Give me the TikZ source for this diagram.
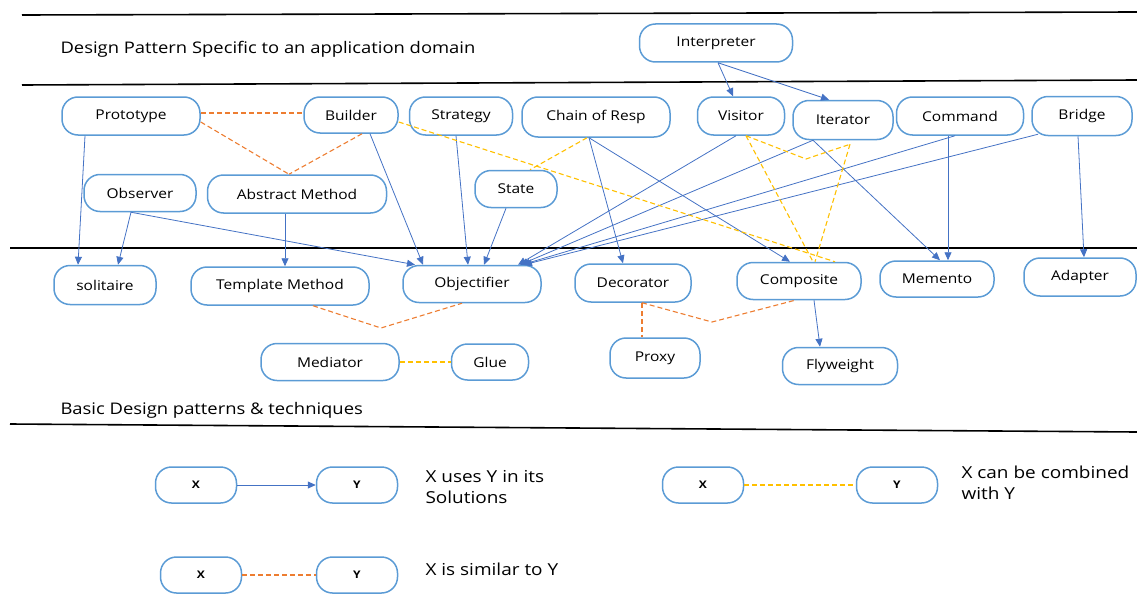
\documentclass[tikz,border=0pt]{standalone}
\usepackage{fontspec}
\setmainfont{Open Sans}[FakeStretch=1.15]
\usetikzlibrary{arrows.meta}
\definecolor{boxblue}{RGB}{91,155,213}
\definecolor{arrowblue}{RGB}{68,114,196}
\definecolor{simorange}{RGB}{237,125,49}
\definecolor{combyellow}{RGB}{255,192,0}

\begin{document}
\begin{tikzpicture}[
			x=1pt, y=-1pt,
			pat/.style = {draw=boxblue, line width=1.5pt, rounded corners=16pt, minimum height=38pt, inner sep=0pt, font=\fontsize{13.5}{16}\selectfont},
			legbox/.style = {pat, minimum width=81pt, minimum height=36pt, font=\fontsize{10.5}{12}\selectfont\bfseries},
			uses/.style = {draw=arrowblue, line width=0.8pt, -{Triangle[length=8pt,width=7pt]}},
			similar/.style = {draw=simorange, line width=1.1pt, dash pattern=on 5pt off 3pt},
			combined/.style = {draw=combyellow, line width=1.1pt, dash pattern=on 5pt off 3pt},
			sepline/.style = {line width=1.6pt},
			heading/.style = {anchor=west, font=\fontsize{16}{19}\selectfont},
			note/.style = {anchor=west, align=left, font=\fontsize{16.5}{21}\selectfont}
		]
		\useasboundingbox (0,0) rectangle (1137,594);
		% layers
		\draw[sepline] (22,15) -- (1137,12);
		\draw[sepline] (22,85) -- (1137,80);
		\draw[sepline] (10,248) -- (1137,248);
		\draw[sepline] (10,424) -- (1137,432);
		\node[heading] (domain) at (57,49) {Design Pattern Specific to an application domain};
		\node[heading] (basic) at (57,410) {Basic Design patterns \& techniques};
		% patterns
		\node[pat, minimum width=153pt] (interp) at (716,43) {Interpreter};
		\node[pat, minimum width=138pt] (proto) at (131,116) {Prototype};
		\node[pat, minimum width=94pt, minimum height=36pt] (builder) at (351,115) {Builder};
		\node[pat, minimum width=103pt] (strategy) at (461,116) {Strategy};
		\node[pat, minimum width=148pt, minimum height=40pt] (chain) at (596,117) {Chain of Resp};
		\node[pat, minimum width=87pt] (visitor) at (741,116) {Visitor};
		\node[pat, minimum width=100pt, minimum height=39pt] (iterator) at (843,120) {Iterator};
		\node[pat, minimum width=127pt] (command) at (960,116) {Command};
		\node[pat, minimum width=100pt, minimum height=39pt] (bridge) at (1082,116) {Bridge};
		\node[pat, minimum width=112pt, minimum height=37pt] (observer) at (140,193) {Observer};
		\node[pat, minimum width=179pt] (abstract) at (297,194) {Abstract Method};
		\node[pat, minimum width=82pt, minimum height=37pt] (state) at (516,189) {State};
		\node[pat, minimum width=102pt, minimum height=39pt] (solitaire) at (105,285) {solitaire};
		\node[pat, minimum width=178pt] (template) at (280,286) {Template Method};
		\node[pat, minimum width=138pt, minimum height=37pt] (objectifier) at (472,284) {Objectifier};
		\node[pat, minimum width=116pt] (decorator) at (633,283) {Decorator};
		\node[pat, minimum width=124pt, minimum height=37pt] (composite) at (799,281) {Composite};
		\node[pat, minimum width=114pt, minimum height=36pt] (memento) at (937,279) {Memento};
		\node[pat, minimum width=112pt] (adapter) at (1080,277) {Adapter};
		\node[pat, minimum width=138pt, minimum height=37pt] (mediator) at (330,362) {Mediator};
		\node[pat, minimum width=77pt, minimum height=36pt] (glue) at (490,362) {Glue};
		\node[pat, minimum width=90pt, minimum height=40pt] (proxy) at (655,358) {Proxy};
		\node[pat, minimum width=115pt, minimum height=37pt] (flyweight) at (840,366) {Flyweight};
		% uses
		\draw[uses] ([xshift=2pt]interp.south) -- ([xshift=-8pt]visitor.north);
		\draw[uses] ([xshift=2pt]interp.south) -- ([xshift=-14pt]iterator.north);
		\draw[uses] ([xshift=-46pt]proto.south) -- ([xshift=-27pt]solitaire.north);
		\draw[uses] ([xshift=-9pt]observer.south) -- ([xshift=13pt]solitaire.north);
		\draw[uses] ([xshift=-9pt]observer.south) -- ([xshift=-57pt]objectifier.north);
		\draw[uses] ([xshift=-12pt]abstract.south) -- ([xshift=5pt]template.north);
		\draw[uses] ([xshift=19pt]builder.south) -- ([xshift=-49pt]objectifier.north);
		\draw[uses] ([xshift=-5pt]strategy.south) -- ([xshift=-4pt]objectifier.north);
		\draw[uses] ([xshift=-10pt]state.south) -- ([xshift=12pt]objectifier.north);
		\draw[uses] ([xshift=-5pt]visitor.south) -- ([xshift=46pt]objectifier.north);
		\draw[uses] ([xshift=-30pt]iterator.south) -- ([xshift=48pt]objectifier.north);
		\draw[uses] ([xshift=-5pt]command.south) -- ([xshift=50pt]objectifier.north);
		\draw[uses] ([xshift=-44pt,yshift=2pt]bridge.south) -- ([xshift=52pt]objectifier.north);
		\draw[uses] ([xshift=-7pt]chain.south) -- ([xshift=-10pt]decorator.north);
		\draw[uses] ([xshift=-7pt]chain.south) -- ([xshift=-9pt]composite.north);
		\draw[uses] ([xshift=-30pt]iterator.south) -- ([xshift=3pt]memento.north);
		\draw[uses] ([xshift=-12pt]command.south) -- ([xshift=11pt]memento.north);
		\draw[uses] ([xshift=-4pt]bridge.south) -- ([xshift=4pt]adapter.north);
		\draw[uses] ([xshift=15pt]composite.south) -- ([xshift=-20pt]flyweight.north);
		% similar
		\draw[similar] ([yshift=3pt]proto.east) -- ([yshift=2pt]builder.west);
		\draw[similar] ([yshift=-6pt]proto.east) -- ([xshift=-8pt]abstract.north);
		\draw[similar] ([xshift=11pt]builder.south) -- ([xshift=-8pt]abstract.north);
		\coordinate (tobend) at (381,328);
		\draw[similar] ([xshift=33pt]template.south) -- (tobend) -- ([xshift=-10pt]objectifier.south);
		\coordinate (dcbend) at (712,322);
		\draw[similar] ([xshift=9pt]decorator.south) -- ([xshift=-13pt]proxy.north);
		\draw[similar] ([xshift=9pt]decorator.south) -- (dcbend) -- ([xshift=-4pt]composite.south);
		% combined
		\draw[combined] ([yshift=-7pt]builder.east) -- ([xshift=36pt]composite.north);
		\draw[combined] ([xshift=-9pt]chain.south) -- ([xshift=14pt]state.north);
		\coordinate (vibend) at (806,159);
		\draw[combined] ([xshift=5pt]visitor.south) -- (vibend) -- ([xshift=7pt,yshift=-4pt]iterator.south);
		\draw[combined] ([xshift=5pt]visitor.south) -- ([xshift=14pt]composite.north);
		\draw[combined] ([xshift=7pt,yshift=-4pt]iterator.south) -- ([xshift=16pt]composite.north);
		\draw[combined] (mediator) -- (glue);
		% legend
		\node[legbox] (x1) at (196,485) {X};
		\node[legbox] (y1) at (357,485) {Y};
		\node[legbox] (x2) at (703,485) {X};
		\node[legbox] (y2) at (897,485) {Y};
		\node[legbox] (x3) at (201,575) {X};
		\node[legbox] (y3) at (357,575) {Y};
		\draw[uses] (x1) -- (y1);
		\draw[combined] (x2) -- (y2);
		\draw[similar] (x3) -- (y3);
		\node[note] (usestext) at (422,487) {X uses Y in its\\Solutions};
		\node[note] (combtext) at (958,483) {X can be combined\\with Y};
		\node[note] (simtext) at (422,569) {X is similar to Y};
	\end{tikzpicture}
\end{document}
